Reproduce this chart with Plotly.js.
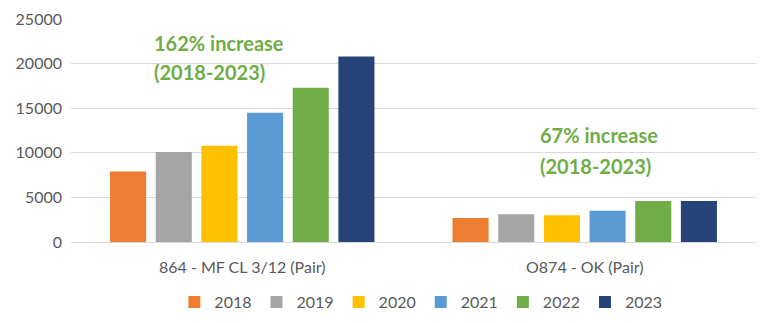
<!DOCTYPE html>
<html>
<head>
<meta charset="utf-8">
<script src="https://cdn.plot.ly/plotly-3.0.1.min.js"></script>
<style>html,body{margin:0;padding:0;background:#fff;}#chart{width:768px;height:323px;}</style>
</head>
<body>
<div id="chart"></div>
<script>
const categories = ["864 - MF CL 3/12 (Pair)", "O874 - OK (Pair)"];
const years = ["2018", "2019", "2020", "2021", "2022", "2023"];
const values2018 = [7900, 2700];
const values2019 = [10100, 3100];
const values2020 = [10800, 3000];
const values2021 = [14500, 3500];
const values2022 = [17300, 4600];
const values2023 = [20800, 4600];
const seriesValues = [values2018, values2019, values2020, values2021, values2022, values2023];
const colors = ["#ED7D31", "#A5A5A5", "#FFC000", "#5B9BD5", "#70AD47", "#264478"];
const yTicks = [0, 5000, 10000, 15000, 20000, 25000];
const noteLines = [
  {text: "162% increase", x: 0.118, y: 22310},
  {text: "(2018-2023)", x: 0.118, y: 19060},
  {text: "67% increase", x: 0.682, y: 12000},
  {text: "(2018-2023)", x: 0.682, y: 8550}
];

const FONT = "Lato, 'Open Sans', sans-serif";
const data = years.map((yr, i) => ({
  type: "bar",
  name: yr,
  x: categories,
  y: seriesValues[i],
  marker: {color: colors[i]},
  hoverinfo: "skip"
}));

const layout = {
  width: 768, height: 323,
  margin: {l: 71, r: 12, t: 19, b: 81},
  paper_bgcolor: "#fff", plot_bgcolor: "#fff",
  barmode: "group",
  bargap: 0.2,
  bargroupgap: 0.21,
  font: {family: FONT, size: 16, color: "#595959"},
  xaxis: {
    showgrid: false, showline: false, zeroline: false,
    ticks: "", ticklabelstandoff: 14,
    tickfont: {family: FONT, size: 16, color: "#595959"}
  },
  yaxis: {
    range: [0, 25000], tickvals: yTicks, ticktext: yTicks.map(String),
    showgrid: true, gridcolor: "#D9D9D9", gridwidth: 1,
    zeroline: true, zerolinecolor: "#D9D9D9", zerolinewidth: 1,
    showline: false, ticks: "", ticklen: 0, ticklabelstandoff: 8,
    tickfont: {family: FONT, size: 16, color: "#595959"}
  },
  showlegend: true,
  legend: {
    orientation: "h", xref: "container", yref: "container",
    x: 0.548, xanchor: "center", y: 0.065, yanchor: "middle",
    font: {family: FONT, size: 16, color: "#595959"},
    itemwidth: 30,
    bgcolor: "rgba(0,0,0,0)"
  },
  annotations: noteLines.map(n => ({
    xref: "paper", yref: "y", x: n.x, y: n.y, xanchor: "left", yanchor: "middle",
    text: "<b>" + n.text + "</b>", showarrow: false,
    font: {family: FONT, size: 20, color: "#70AD47"}
  }))
};

Plotly.newPlot("chart", data, layout, {displayModeBar: false, staticPlot: true});
</script>
</body>
</html>
